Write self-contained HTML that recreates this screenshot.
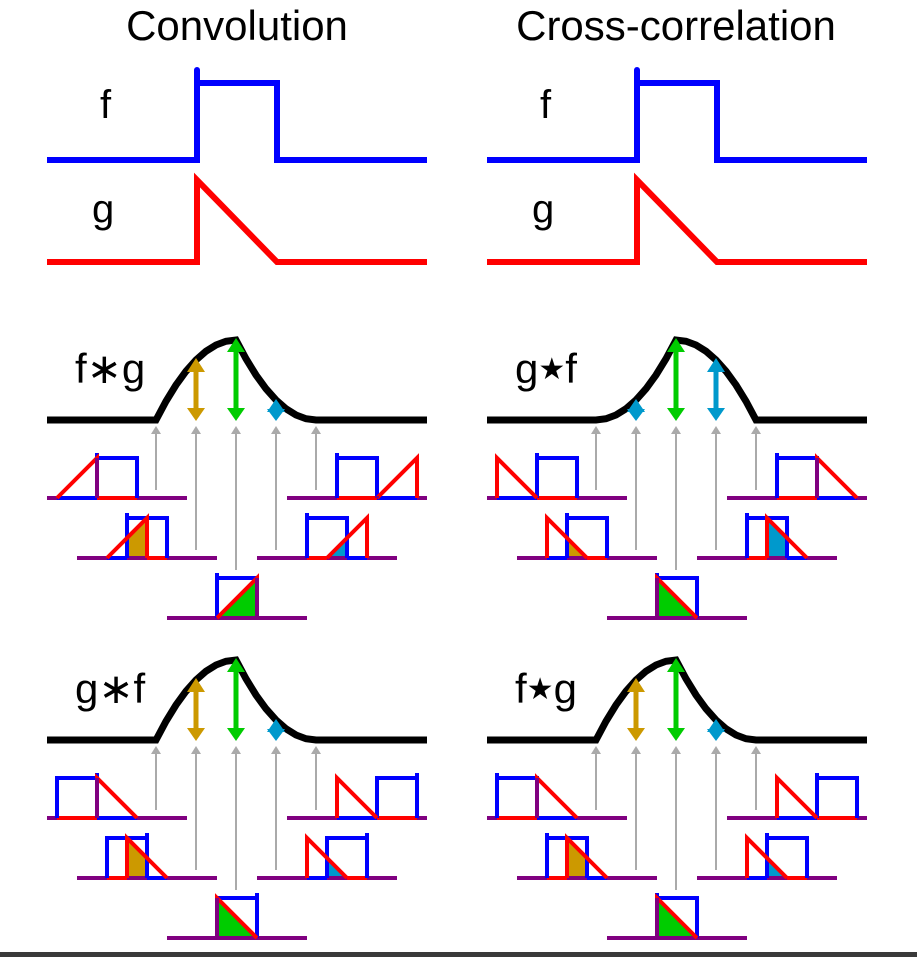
<!DOCTYPE html>
<html><head><meta charset="utf-8"><style>
html,body{margin:0;padding:0;background:#fff;}
svg{display:block;}
text{font-family:"Liberation Sans","DejaVu Sans",sans-serif;fill:#000;}
</style></head><body>
<svg width="917" height="957" viewBox="0 0 917 957" xmlns="http://www.w3.org/2000/svg">
<defs>
<g id="grays" stroke="#aaa" stroke-width="2" fill="#aaa">
  <line x1="156" y1="432" x2="156" y2="490"/><polygon points="151,434 161,434 156,426" stroke="none"/>
  <line x1="196" y1="432" x2="196" y2="550"/><polygon points="191,434 201,434 196,426" stroke="none"/>
  <line x1="236" y1="432" x2="236" y2="570"/><polygon points="231,434 241,434 236,426" stroke="none"/>
  <line x1="276" y1="432" x2="276" y2="550"/><polygon points="271,434 281,434 276,426" stroke="none"/>
  <line x1="316" y1="432" x2="316" y2="490"/><polygon points="311,434 321,434 316,426" stroke="none"/>
</g>
<g id="ar-gold-big"><line x1="196" y1="368" x2="196" y2="412" stroke="#cc9900" stroke-width="5"/><polygon points="187,372 205,372 196,358" fill="#cc9900"/><polygon points="187,408 205,408 196,421" fill="#cc9900"/></g>
<g id="ar-green"><line x1="236" y1="348" x2="236" y2="412" stroke="#00cc00" stroke-width="5"/><polygon points="227,352 245,352 236,338" fill="#00cc00"/><polygon points="227,408 245,408 236,421" fill="#00cc00"/></g>
<g id="ar-blue-small"><polygon points="267,412 285,412 276,399" fill="#0099cc"/><polygon points="267,409 285,409 276,421" fill="#0099cc"/></g>
</defs>

<!-- titles -->
<text x="237" y="40" font-size="42" text-anchor="middle">Convolution</text>
<text x="676" y="40" font-size="42" text-anchor="middle">Cross-correlation</text>

<!-- top panels -->
<g id="top" fill="none" stroke-width="6">
  <path d="M47,160 H197 V83 H277 V160 H427" stroke="#0000ff"/>
  <path d="M197,85 V70" stroke="#0000ff" stroke-linecap="round"/>
  <path d="M47,262 H197 V180 L277,262 H427" stroke="#ff0000"/>
</g>
<text x="100" y="118" font-size="40">f</text>
<text x="92" y="222" font-size="40">g</text>
<use href="#top" x="440"/>
<text x="540" y="118" font-size="40">f</text>
<text x="532" y="222" font-size="40">g</text>

<!-- ============ Panel 1: f*g ============ -->
<g id="p1">
<polyline fill="none" stroke="#000" stroke-width="7" points="47,420 156,420 166,401.25 176,385 186,371.25 196,360 206,351.25 216,345 226,341.25 236,340 246,358.75 256,375 266,388.75 276,400 286,408.75 296,415 306,418.75 316,420 427,420"/>
<use href="#grays"/>
<use href="#ar-gold-big"/><use href="#ar-green"/><use href="#ar-blue-small"/>
<g fill="none" stroke-width="4">
  <g transform="translate(47,498)">
    <path d="M0,0 H140" stroke="#800080"/><path d="M10,0 H50" stroke="#0000ff"/><path d="M50,0 H90" stroke="#ff0000"/>
    <path d="M50,0 V-45 M50,-40 H90 V0" stroke="#0000ff"/><path d="M10,0 L50,-40 V0" stroke="#ff0000"/><path d="M50,0 V-40" stroke="#800080"/>
  </g>
  <g transform="translate(77,558)">
    <polygon points="50,0 50,-20 70,-40 70,0" fill="#cc9900" stroke="none"/>
    <path d="M0,0 H140" stroke="#800080"/><path d="M30,0 H50" stroke="#0000ff"/><path d="M70,0 H90" stroke="#ff0000"/>
    <path d="M50,0 V-45 M50,-40 H90 V0" stroke="#0000ff"/><path d="M30,0 L70,-40 V0" stroke="#ff0000"/>
  </g>
  <g transform="translate(167,618)">
    <polygon points="50,0 90,-40 90,0" fill="#00cc00" stroke="none"/>
    <path d="M0,0 H140" stroke="#800080"/>
    <path d="M50,0 V-45 M50,-40 H90 V0" stroke="#0000ff"/><path d="M50,0 L90,-40 V0" stroke="#ff0000"/><path d="M90,0 V-40" stroke="#800080"/>
  </g>
  <g transform="translate(257,558)">
    <polygon points="70,0 90,-20 90,0" fill="#0099cc" stroke="none"/>
    <path d="M0,0 H140" stroke="#800080"/><path d="M50,0 H70" stroke="#ff0000"/><path d="M90,0 H110" stroke="#0000ff"/>
    <path d="M50,0 V-45 M50,-40 H90 V0" stroke="#0000ff"/><path d="M70,0 L110,-40 V0" stroke="#ff0000"/>
  </g>
  <g transform="translate(287,498)">
    <path d="M0,0 H140" stroke="#800080"/><path d="M50,0 H90" stroke="#ff0000"/><path d="M90,0 H130" stroke="#0000ff"/>
    <path d="M50,0 V-45 M50,-40 H90 V0" stroke="#0000ff"/><path d="M90,0 L130,-40 V0" stroke="#ff0000"/><path d="M90,0 V-2" stroke="#800080"/>
  </g>
</g>
</g>
<text x="75" y="383" font-size="42">f∗g</text>

<!-- ============ Panel 2: g★f ============ -->
<g transform="translate(440,0)">
<polyline fill="none" stroke="#000" stroke-width="7" points="47,420 156,420 166,418.75 176,415 186,408.75 196,400 206,388.75 216,375 226,358.75 236,340 246,341.25 256,345 266,351.25 276,360 286,371.25 296,385 306,401.25 316,420 427,420"/>
<use href="#grays"/>
<use href="#ar-green"/>
<g transform="translate(-80,0)"><use href="#ar-blue-small"/></g>
<g><line x1="276" y1="368" x2="276" y2="412" stroke="#0099cc" stroke-width="5"/><polygon points="267,372 285,372 276,358" fill="#0099cc"/><polygon points="267,408 285,408 276,421" fill="#0099cc"/></g>
<g fill="none" stroke-width="4">
  <g transform="translate(47,498)">
    <path d="M0,0 H140" stroke="#800080"/><path d="M10,0 H50" stroke="#0000ff"/><path d="M50,0 H90" stroke="#ff0000"/>
    <path d="M50,0 V-45 M50,-40 H90 V0" stroke="#0000ff"/><path d="M10,0 V-40 L50,0" stroke="#ff0000"/>
  </g>
  <g transform="translate(77,558)">
    <polygon points="50,0 50,-20 70,0" fill="#cc9900" stroke="none"/>
    <path d="M0,0 H140" stroke="#800080"/><path d="M30,0 H50" stroke="#0000ff"/><path d="M70,0 H90" stroke="#ff0000"/>
    <path d="M50,0 V-45 M50,-40 H90 V0" stroke="#0000ff"/><path d="M30,0 V-40 L70,0" stroke="#ff0000"/>
  </g>
  <g transform="translate(167,618)">
    <polygon points="50,0 50,-40 90,0" fill="#00cc00" stroke="none"/>
    <path d="M0,0 H140" stroke="#800080"/>
    <path d="M50,0 V-45 M50,-40 H90 V0" stroke="#0000ff"/><path d="M50,0 V-40 L90,0" stroke="#ff0000"/><path d="M50,0 V-40" stroke="#800080"/>
  </g>
  <g transform="translate(257,558)">
    <polygon points="70,0 70,-40 90,-20 90,0" fill="#0099cc" stroke="none"/>
    <path d="M0,0 H140" stroke="#800080"/><path d="M50,0 H70" stroke="#ff0000"/><path d="M90,0 H110" stroke="#0000ff"/>
    <path d="M50,0 V-45 M50,-40 H90 V0" stroke="#0000ff"/><path d="M70,0 V-40 L110,0" stroke="#ff0000"/>
  </g>
  <g transform="translate(287,498)">
    <path d="M0,0 H140" stroke="#800080"/><path d="M50,0 H90" stroke="#ff0000"/><path d="M90,0 H130" stroke="#0000ff"/>
    <path d="M50,0 V-45 M50,-40 H90 V0" stroke="#0000ff"/><path d="M90,0 V-40 L130,0" stroke="#ff0000"/><path d="M90,0 V-40" stroke="#800080"/>
  </g>
</g>
</g>
<text x="515" y="383" font-size="42">g<tspan font-size="30" dy="-4">★</tspan><tspan dy="4">f</tspan></text>

<!-- ============ Panel 3: g*f ============ -->
<g id="p3" transform="translate(0,320)">
<polyline fill="none" stroke="#000" stroke-width="7" points="47,420 156,420 166,401.25 176,385 186,371.25 196,360 206,351.25 216,345 226,341.25 236,340 246,358.75 256,375 266,388.75 276,400 286,408.75 296,415 306,418.75 316,420 427,420"/>
<use href="#grays"/>
<use href="#ar-gold-big"/><use href="#ar-green"/><use href="#ar-blue-small"/>
<g fill="none" stroke-width="4">
  <g transform="translate(47,498)">
    <path d="M0,0 H140" stroke="#800080"/><path d="M10,0 H50" stroke="#ff0000"/><path d="M50,0 H90" stroke="#0000ff"/>
    <path d="M10,0 V-40 H50 M50,-45 V0" stroke="#0000ff"/><path d="M50,0 V-40 L90,0" stroke="#ff0000"/><path d="M50,0 V-40" stroke="#800080"/>
  </g>
  <g transform="translate(77,558)">
    <polygon points="50,0 50,-40 70,-20 70,0" fill="#cc9900" stroke="none"/>
    <path d="M0,0 H140" stroke="#800080"/><path d="M30,0 H50" stroke="#ff0000"/><path d="M70,0 H90" stroke="#0000ff"/>
    <path d="M30,0 V-40 H70 M70,-45 V0" stroke="#0000ff"/><path d="M50,0 V-40 L90,0" stroke="#ff0000"/>
  </g>
  <g transform="translate(167,618)">
    <polygon points="50,0 50,-40 90,0" fill="#00cc00" stroke="none"/>
    <path d="M0,0 H140" stroke="#800080"/>
    <path d="M50,0 V-40 H90 M90,-45 V0" stroke="#0000ff"/><path d="M50,0 V-40 L90,0" stroke="#ff0000"/><path d="M50,0 V-40" stroke="#800080"/>
  </g>
  <g transform="translate(257,558)">
    <polygon points="70,0 70,-20 90,0" fill="#0099cc" stroke="none"/>
    <path d="M0,0 H140" stroke="#800080"/><path d="M50,0 H70" stroke="#0000ff"/><path d="M90,0 H110" stroke="#ff0000"/>
    <path d="M70,0 V-40 H110 M110,-45 V0" stroke="#0000ff"/><path d="M50,0 V-40 L90,0" stroke="#ff0000"/>
  </g>
  <g transform="translate(287,498)">
    <path d="M0,0 H140" stroke="#800080"/><path d="M50,0 H90" stroke="#0000ff"/><path d="M90,0 H130" stroke="#ff0000"/>
    <path d="M90,0 V-40 H130 M130,-45 V0" stroke="#0000ff"/><path d="M50,0 V-40 L90,0" stroke="#ff0000"/>
  </g>
</g>
</g>
<text x="75" y="703" font-size="42">g∗f</text>

<!-- ============ Panel 4: f★g ============ -->
<g transform="translate(440,320)">
<polyline fill="none" stroke="#000" stroke-width="7" points="47,420 156,420 166,401.25 176,385 186,371.25 196,360 206,351.25 216,345 226,341.25 236,340 246,358.75 256,375 266,388.75 276,400 286,408.75 296,415 306,418.75 316,420 427,420"/>
<use href="#grays"/>
<use href="#ar-gold-big"/><use href="#ar-green"/><use href="#ar-blue-small"/>
<g fill="none" stroke-width="4">
  <g transform="translate(47,498)">
    <path d="M0,0 H140" stroke="#800080"/><path d="M10,0 H50" stroke="#ff0000"/><path d="M50,0 H90" stroke="#0000ff"/>
    <path d="M10,0 V-45 M10,-40 H50 V0" stroke="#0000ff"/><path d="M50,0 V-40 L90,0" stroke="#ff0000"/><path d="M50,0 V-40" stroke="#800080"/>
  </g>
  <g transform="translate(77,558)">
    <polygon points="50,0 50,-40 70,-20 70,0" fill="#cc9900" stroke="none"/>
    <path d="M0,0 H140" stroke="#800080"/><path d="M30,0 H50" stroke="#ff0000"/><path d="M70,0 H90" stroke="#0000ff"/>
    <path d="M30,0 V-45 M30,-40 H70 V0" stroke="#0000ff"/><path d="M50,0 V-40 L90,0" stroke="#ff0000"/>
  </g>
  <g transform="translate(167,618)">
    <polygon points="50,0 50,-40 90,0" fill="#00cc00" stroke="none"/>
    <path d="M0,0 H140" stroke="#800080"/>
    <path d="M50,0 V-45 M50,-40 H90 V0" stroke="#0000ff"/><path d="M50,0 V-40 L90,0" stroke="#ff0000"/><path d="M50,0 V-40" stroke="#800080"/>
  </g>
  <g transform="translate(257,558)">
    <polygon points="70,0 70,-20 90,0" fill="#0099cc" stroke="none"/>
    <path d="M0,0 H140" stroke="#800080"/><path d="M50,0 H70" stroke="#0000ff"/><path d="M90,0 H110" stroke="#ff0000"/>
    <path d="M70,0 V-45 M70,-40 H110 V0" stroke="#0000ff"/><path d="M50,0 V-40 L90,0" stroke="#ff0000"/>
  </g>
  <g transform="translate(287,498)">
    <path d="M0,0 H140" stroke="#800080"/><path d="M50,0 H90" stroke="#0000ff"/><path d="M90,0 H130" stroke="#ff0000"/>
    <path d="M90,0 V-45 M90,-40 H130 V0" stroke="#0000ff"/><path d="M50,0 V-40 L90,0" stroke="#ff0000"/>
  </g>
</g>
</g>
<text x="515" y="703" font-size="42">f<tspan font-size="30" dy="-4">★</tspan><tspan dy="4">g</tspan></text>

<rect x="0" y="952" width="917" height="5" fill="#3a3a3a"/>
</svg>
</body></html>
